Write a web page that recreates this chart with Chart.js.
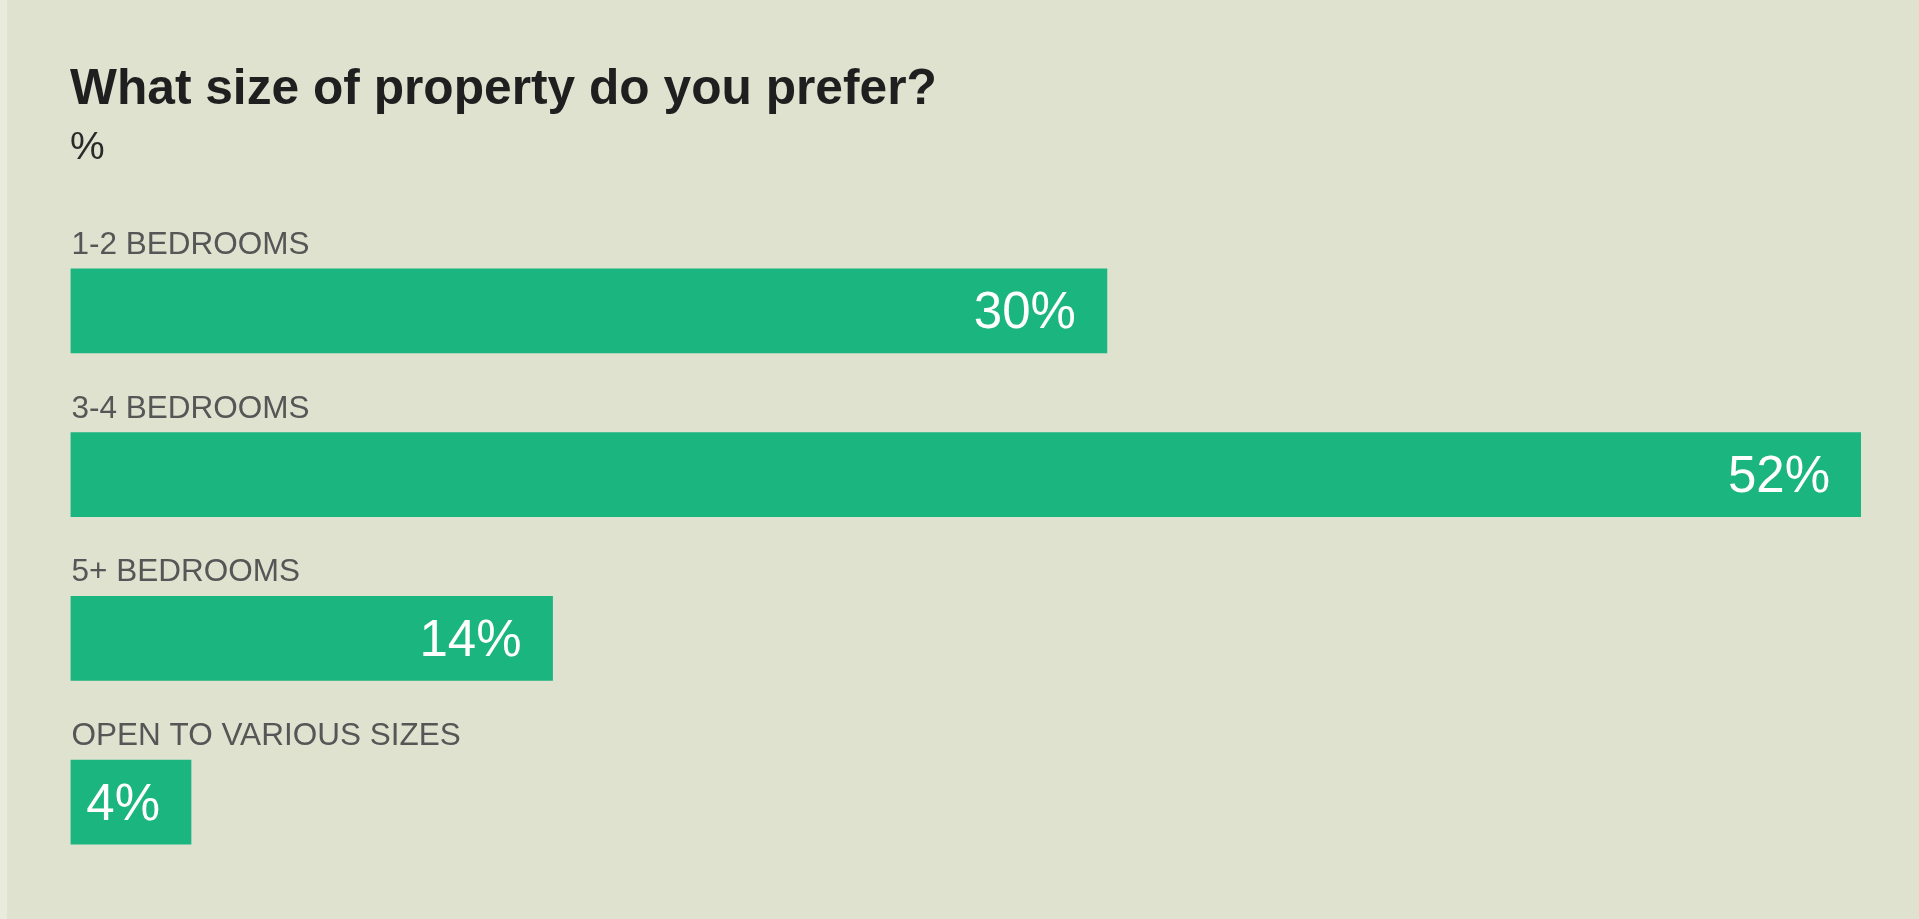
<!DOCTYPE html>
<html>
<head>
<meta charset="utf-8">
<script src="https://cdn.jsdelivr.net/npm/chart.js@4.4.1/dist/chart.umd.min.js"></script>
<style>
  html, body { margin: 0; padding: 0; width: 100%; height: 100%; background: #e0e2d0; overflow: hidden; }
  #strip { position: absolute; left: 0; top: 0; width: 7px; height: 100%; background: #e9ecdd; }
  #wrap { position: absolute; left: 0; top: 0; width: 1919px; height: 919px; }
</style>
</head>
<body>
<div id="strip"></div>
<div id="wrap"><canvas id="c"></canvas></div>
<script>
const titleText = "What size of property do you prefer?";
const subtitleText = "%";
const categories = ["1-2 BEDROOMS", "3-4 BEDROOMS", "5+ BEDROOMS", "OPEN TO VARIOUS SIZES"];
const values = [30.1, 52, 14, 3.5];
const valueLabels = ["30%", "52%", "14%", "4%"];

const FONT = "'Liberation Sans', Arial, Helvetica, sans-serif";

const overlay = {
  id: 'overlay',
  afterDatasetsDraw(chart) {
    const ctx = chart.ctx;
    const meta = chart.getDatasetMeta(0);
    ctx.save();
    ctx.textAlign = 'left';
    ctx.textBaseline = 'alphabetic';
    ctx.fillStyle = '#1f1f1f';
    ctx.font = "bold 49.7px " + FONT;
    ctx.fillText(titleText, 70, 103.5);
    ctx.fillStyle = '#2a2a2a';
    ctx.font = "39px " + FONT;
    ctx.fillText(subtitleText, 70, 159);
    meta.data.forEach((bar, i) => {
      const p = bar.getProps(['x', 'y', 'base', 'height'], true);
      const top = p.y - p.height / 2;
      ctx.textAlign = 'left';
      ctx.fillStyle = '#565656';
      ctx.font = "31.5px " + FONT;
      ctx.fillText(categories[i], p.base + 1, top - 15);
      ctx.textAlign = 'right';
      ctx.fillStyle = '#ffffff';
      ctx.font = "51px " + FONT;
      ctx.fillText(valueLabels[i], p.x - 31, p.y + 17.5);
    });
    ctx.restore();
  }
};

new Chart(document.getElementById('c'), {
  type: 'bar',
  data: {
    labels: categories,
    datasets: [{
      data: values,
      backgroundColor: '#1bb57f',
      borderWidth: 0,
      barThickness: 84
    }]
  },
  options: {
    indexAxis: 'y',
    responsive: true,
    maintainAspectRatio: false,
    animation: false,
    layout: { padding: { left: 70.5, right: 58, top: 229, bottom: 35 } },
    scales: {
      x: { display: false, min: 0, max: 52, grid: { display: false } },
      y: { display: false, grid: { display: false } }
    },
    plugins: {
      legend: { display: false },
      tooltip: { enabled: false },
      title: { display: false }
    }
  },
  plugins: [overlay]
});
</script>
</body>
</html>
